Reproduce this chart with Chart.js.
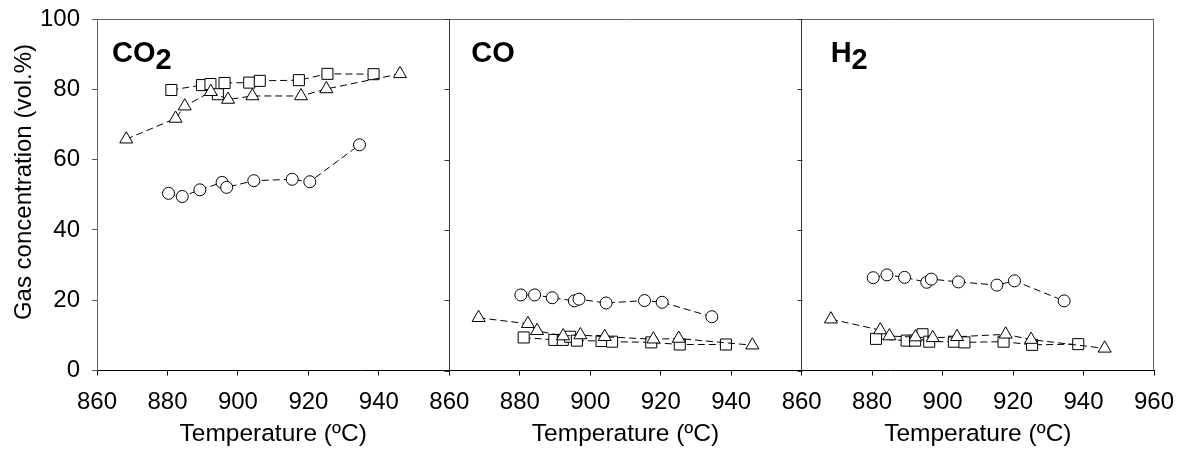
<!DOCTYPE html>
<html>
<head>
<meta charset="utf-8">
<script src="https://cdn.jsdelivr.net/npm/chart.js@4.4.1/dist/chart.umd.min.js"></script>
<style>
  body { margin: 0; background: #fff; }
  canvas { display: block; }
</style>
</head>
<body>
<canvas id="chart" width="1184" height="454"></canvas>
<script>
// Panels, in order left to right
const panelNames = ['CO', 'CO', 'H'];
const panelSubs = ['2', '', '2'];

// Temperatures (ºC) for each series, same runs in every panel
const tempCircle = [880.3, 884.2, 889.2, 895.5, 896.8, 904.5, 915.4, 920.4, 934.5];
const tempTriangle = [868.3, 882.3, 884.9, 892.3, 897.2, 904.1, 917.9, 925.1, 946.0];
const tempSquare = [881.1, 889.8, 892.2, 894.3, 896.2, 903.2, 906.2, 917.3, 925.4, 938.5];

// Gas concentration (vol.%)
const co2Circle = [50.4, 49.5, 51.4, 53.5, 52.1, 54.0, 54.4, 53.7, 64.2];
const co2Triangle = [65.8, 71.7, 75.2, 79.3, 77.1, 78.1, 78.1, 80.1, 84.4];
const co2Square = [79.8, 81.2, 81.5, 78.6, 81.8, 81.9, 82.4, 82.6, 84.4, 84.3];

const coCircle = [21.5, 21.5, 20.7, 19.8, 20.3, 19.2, 19.9, 19.4, 15.3];
const coTriangle = [15.0, 13.3, 11.3, 9.8, 10.1, 9.6, 8.9, 9.1, 7.2];
const coSquare = [9.4, 8.7, 8.7, 9.6, 8.5, 8.4, 8.2, 8.0, 7.4, 7.4];

const h2Circle = [26.4, 27.2, 26.5, 25.1, 26.0, 25.2, 24.3, 25.5, 19.8];
const h2Triangle = [14.6, 11.5, 9.8, 9.5, 9.3, 9.6, 10.3, 8.8, 6.3];
const h2Square = [9.0, 8.5, 8.5, 10.3, 8.2, 8.2, 8.0, 8.2, 7.3, 7.5];

// Axis ticks
const xTicks = [860, 880, 900, 920, 940, 960];
const yTicks = [0, 20, 40, 60, 80, 100];

const FONT = '"Liberation Sans", Arial, sans-serif';

// each panel is 100 ºC wide, panels sit side by side on one x scale
function points(temps, vals, panel) {
    return temps.map((t, i) => ({ x: t + 100 * panel, y: vals[i] }));
}

function makeSet(temps, vals, panel, style, radius) {
    return {
        data: points(temps, vals, panel),
        showLine: true,
        borderColor: '#000',
        borderWidth: 1,
        borderDash: [7, 4],
        pointStyle: style,
        pointRadius: radius,
        pointHoverRadius: radius,
        pointBackgroundColor: '#fff',
        pointBorderColor: '#000',
        pointBorderWidth: 1,
    };
}

const datasets = [];
const allPanels = [
    [co2Circle, co2Triangle, co2Square],
    [coCircle, coTriangle, coSquare],
    [h2Circle, h2Triangle, h2Square],
];
allPanels.forEach((p, i) => {
    datasets.push(makeSet(tempCircle, p[0], i, 'circle', 6));
    datasets.push(makeSet(tempTriangle, p[1], i, 'triangle', 7.5));
    datasets.push(makeSet(tempSquare, p[2], i, 'rect', 7.8));
});

const xMin = xTicks[0];
const xMax = xTicks[0] + 100 * panelNames.length;
const dividers = [xMin + 100, xMin + 200];

// Frame, divider ticks, panel labels and axis titles
const decorations = {
    id: 'decorations',
    afterDraw(chart) {
        const ctx = chart.ctx;
        const x = chart.scales.x;
        const y = chart.scales.y;
        const area = chart.chartArea;
        ctx.save();

        // top and right frame
        ctx.strokeStyle = '#666';
        ctx.lineWidth = 1;
        ctx.beginPath();
        ctx.moveTo(area.left, area.top + 0.5);
        ctx.lineTo(area.right, area.top + 0.5);
        ctx.moveTo(area.right - 0.5, area.top);
        ctx.lineTo(area.right - 0.5, area.bottom);
        ctx.stroke();

        // small y ticks on the dividers
        ctx.strokeStyle = '#333';
        ctx.beginPath();
        dividers.forEach(d => {
            const px = Math.round(x.getPixelForValue(d)) + 0.5;
            yTicks.forEach(v => {
                const py = Math.round(y.getPixelForValue(v)) + 0.5;
                ctx.moveTo(px - 5, py);
                ctx.lineTo(px, py);
            });
        });
        ctx.stroke();

        // panel labels
        ctx.fillStyle = '#000';
        ctx.textAlign = 'left';
        ctx.textBaseline = 'alphabetic';
        ctx.font = 'bold 29px ' + FONT;
        const offsets = [15, 22, 29];
        panelNames.forEach((name, i) => {
            const lx = x.getPixelForValue(xMin + 100 * i) + offsets[i];
            ctx.fillText(name, lx, 62);
            if (panelSubs[i]) {
                ctx.fillText(panelSubs[i], lx + ctx.measureText(name).width, 69);
            }
        });

        // x titles, one per panel
        ctx.font = '24.5px ' + FONT;
        ctx.textAlign = 'center';
        ctx.textBaseline = 'middle';
        panelNames.forEach((name, i) => {
            ctx.fillText('Temperature (ºC)', x.getPixelForValue(xMin + 50 + 100 * i), 434);
        });

        // y title
        ctx.font = '24px ' + FONT;
        ctx.translate(24, 182);
        ctx.rotate(-Math.PI / 2);
        ctx.fillText('Gas concentration (vol.%)', 0, 0);
        ctx.restore();
    }
};

new Chart(document.getElementById('chart'), {
    type: 'scatter',
    data: { datasets: datasets },
    plugins: [decorations],
    options: {
        responsive: false,
        animation: false,
        events: [],
        layout: { padding: { left: 0, right: 30, top: 19, bottom: 0 } },
        plugins: {
            legend: { display: false },
            tooltip: { enabled: false },
        },
        scales: {
            x: {
                type: 'linear',
                min: xMin,
                max: xMax,
                afterFit: s => {
                    s.height = 83.5;
                    s.paddingLeft = 0;
                    s.paddingRight = 0;
                },
                afterBuildTicks: s => {
                    const t = [];
                    for (let v = xMin; v <= xMax; v += 20) t.push({ value: v });
                    s.ticks = t;
                },
                ticks: {
                    color: '#000',
                    font: { family: FONT, size: 24 },
                    padding: 12,
                    maxRotation: 0,
                    autoSkip: false,
                    callback: v => v === xMax ? String(xTicks[xTicks.length - 1]) : String(xMin + (v - xMin) % 100),
                },
                grid: {
                    drawOnChartArea: true,
                    color: c => dividers.includes(c.tick && c.tick.value) ? '#333' : 'rgba(0,0,0,0)',
                    tickColor: '#000',
                    tickLength: 5,
                },
                border: { color: '#000', width: 1 },
            },
            y: {
                min: yTicks[0],
                max: yTicks[yTicks.length - 1],
                afterFit: s => {
                    s.width = 97;
                    s.paddingTop = 0;
                    s.paddingBottom = 0;
                },
                ticks: {
                    stepSize: 20,
                    color: '#000',
                    font: { family: FONT, size: 24 },
                    padding: 12,
                },
                grid: {
                    drawOnChartArea: false,
                    tickColor: '#555',
                    tickLength: 5,
                },
                border: { color: '#666', width: 1 },
            }
        }
    }
});
</script>
</body>
</html>
